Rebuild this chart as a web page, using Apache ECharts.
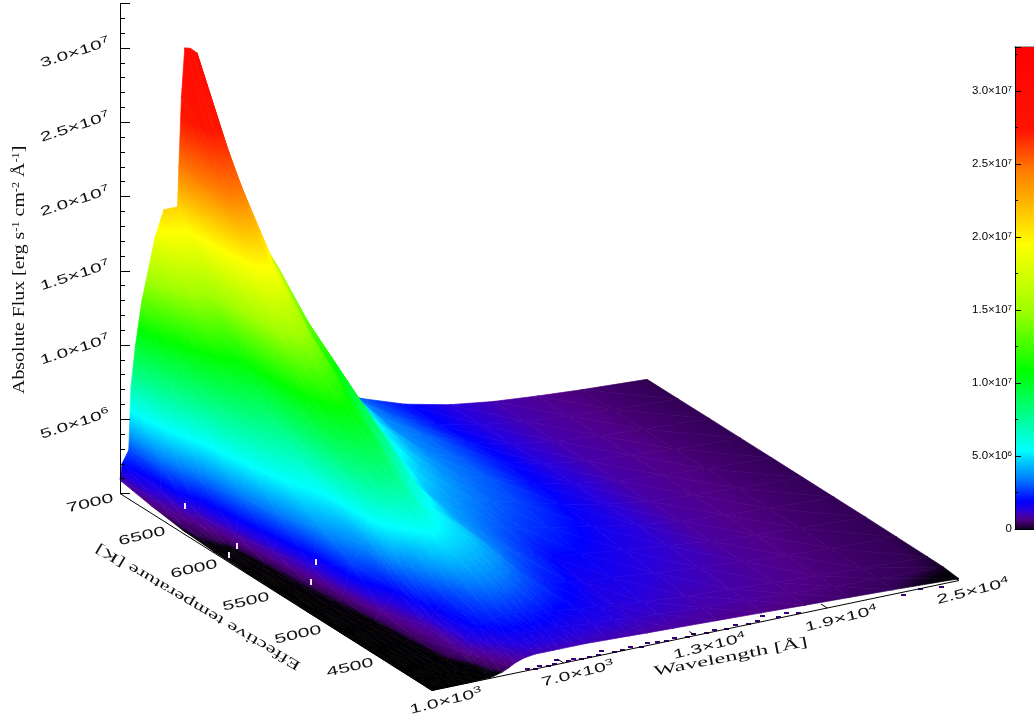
<!DOCTYPE html>
<html><head><meta charset="utf-8">
<style>html,body{margin:0;padding:0;background:#fff}#c{width:1034px;height:717px}</style>
<script src="https://cdn.jsdelivr.net/npm/echarts@6/dist/echarts.min.js"></script>
</head><body><div id="c"></div>
<script>
// Flux values are in units of 10^6 erg s-1 cm-2 A-1
const FLUX_UNIT = 1e6;
const wavelengths = [1000,1100,1400,1500,1700,2000,2300,2600,3000,3620,3680,3800,3950,4200,4500,4800,5200,5700,6100,6500,6800,7500,8000,9000,10000,10800,12000,14000,16000,18000,20000,22000,25000];
const temperatures = [7000,6700,6400,6100,5800,5500,5200,4900,4600,4300,4150,4000];
const flux7000 = [.9,2.0,2.8,7.0,9.7,12.7,14.7,16.8,18.5,18.5,21.2,25.9,29.1,29.0,28.6,26.6,24.2,20.7,18.1,17.7,16.8,14.1,11.8,8.5,6.1,4.0,3.0,2.0,1.35,.95,.7,.5,.28];
const flux6700 = [.5,1.0,1.4,3.0,5.2,8.0,9.9,11.8,13.6,14.4,16.5,20.3,23.0,23.3,23.3,21.9,20.3,17.6,15.6,15.4,14.7,12.0,9.8,7.0,5.4,3.8,3.1,2.0,1.33,.94,.7,.5,.29];
const flux6400 = [.2,.4,.5,.8,1.0,2.8,5.7,8.0,9.7,10.9,12.6,15.6,17.9,18.3,18.6,17.8,16.7,14.8,13.2,13.0,12.2,10.0,8.2,6.0,4.7,3.7,3.2,2.1,1.35,.93,.7,.5,.3];
const flux6100 = [.08,.12,.15,.2,.2,.9,3.4,5.5,7.1,8.3,9.7,12.1,14.0,14.6,15.1,14.6,13.9,12.5,11.3,11.0,10.4,8.4,7.0,5.2,4.2,3.6,3.1,2.1,1.35,.92,.7,.5,.3];
const flux5800 = [.03,.05,.06,.08,.15,.25,1.0,3.2,5.2,6.4,7.5,9.5,11.0,11.7,12.2,12.0,11.6,10.6,9.5,9.0,8.6,6.8,5.4,4.5,3.8,3.4,3.0,2.0,1.35,.9,.68,.5,.3];
const flux5500 = [.02,.02,.03,.04,.07,.2,.35,1.2,3.8,5.0,5.8,7.4,8.7,9.3,9.9,9.9,9.7,8.6,7.6,7.2,6.4,5.0,4.4,3.8,3.4,3.1,2.7,1.9,1.3,.87,.66,.5,.3];
const flux5200 = [.01,.02,.02,.03,.05,.1,.2,.4,2.65,3.7,4.35,5.6,6.65,7.2,7.8,7.9,7.6,6.6,5.8,5.5,5.2,4.4,3.9,3.3,2.9,2.6,2.3,1.7,1.25,.84,.64,.48,.3];
const flux4900 = [.01,.01,.01,.02,.03,.05,.08,.2,.7,2.0,2.4,2.8,3.2,3.6,4.3,5.0,5.4,5.2,5.0,4.8,4.7,4.1,3.5,2.9,2.3,1.9,1.85,1.45,1.15,.8,.62,.46,.3];
const flux4600 = [.01,.01,.01,.01,.02,.03,.05,.1,.35,.9,1.1,1.4,1.7,2.0,2.5,2.9,3.5,3.8,3.8,3.7,3.6,3.2,2.9,2.2,1.95,1.6,1.56,1.25,1.0,.78,.58,.44,.28];
const flux4300 = [.01,.01,.01,.01,.01,.02,.03,.05,.2,.6,.7,.9,1.2,1.7,1.95,2.1,2.25,2.35,2.35,2.3,2.25,2.1,1.9,1.7,1.55,1.3,1.26,1.0,.88,.7,.54,.42,.26];
const flux4150 = [.01,.01,.01,.01,.01,.01,.02,.03,.05,.2,.25,.35,.5,.7,1.0,1.2,1.6,1.7,1.7,1.7,1.7,1.6,1.5,1.4,1.3,1.15,1.1,.92,.81,.62,.5,.38,.24];
const flux4000 = [.01,.01,.01,.01,.01,.01,.01,.01,.02,.05,.06,.1,.15,.25,.45,.7,.9,1.0,1.0,1.0,1.0,1.0,1.0,.95,.9,.85,.8,.7,.6,.5,.4,.3,.12];
const fluxRows = [flux7000,flux6700,flux6400,flux6100,flux5800,flux5500,flux5200,flux4900,flux4600,flux4300,flux4150,flux4000];

const fluxTicks = [5e6,1e7,1.5e7,2e7,2.5e7,3e7];
const fluxTickLabels = ['5.0×10{s|6}','1.0×10{s|7}','1.5×10{s|7}','2.0×10{s|7}','2.5×10{s|7}','3.0×10{s|7}'];
const tempTicks = [7000,6500,6000,5500,5000,4500];
const tempTickLabels = ['7000','6500','6000','5500','5000','4500'];
const waveTicks = [1000,7000,13000,19000,25000];
const waveTickLabels = ['1.0×10{s|3}','7.0×10{s|3}','1.3×10{s|4}','1.9×10{s|4}','2.5×10{s|4}'];
const colorbarTickLabels = {0:'0',5000000:'5.0×10{s|6}',10000000:'1.0×10{s|7}',15000000:'1.5×10{s|7}',20000000:'2.0×10{s|7}',25000000:'2.5×10{s|7}',30000000:'3.0×10{s|7}'};
// Isolated pixels of the grid: holes inside the surface and stray cells beyond its edge
const holeCells = [[2650,6733],[1500,6067],[2260,6151],[2896,5573],[4151,5790]];
const strayCells = [[5400,4030],[5700,4020],[6000,4045],[6300,4025],[6600,4030],[6900,4070],[7200,4025],[7500,4040],[7800,4020],[8200,4030],[8600,4030],[8900,4065],[9300,4020],[9700,4030],[10100,4035],[10500,4020],[10900,4040],[11300,4030],[11700,4025],[12100,4035],[12600,4020],[13000,4040],[13500,4025],[13900,4030],[14400,4020],[14900,4045],[15400,4025],[15900,4040],[16300,4075],[16800,4030],[17300,4060],[17700,4025],[22300,3990],[23200,4010],[24000,3985]];

const colorbarStops = [[0,[20,0,35]],[.3,[50,0,85]],[.6,[75,0,130]],[.9,[70,0,170]],[1.3,[40,0,220]],[1.9,[0,0,255]],[3.5,[0,130,255]],[5.4,[0,255,255]],[8,[0,255,130]],[10.8,[0,255,0]],[15,[160,255,0]],[19.5,[255,255,0]],[24.4,[255,128,0]],[27.3,[255,20,0]],[33,[255,0,0]]];
const colormap = [[0,[0,0,0]],[.2,[5,0,10]],[.3,[50,0,85]],[.6,[80,0,135]],[.9,[70,0,170]],[1.3,[40,0,220]],[1.9,[0,0,255]],[3.5,[0,130,255]],[5.4,[0,255,255]],[8,[0,255,130]],[10.8,[0,255,0]],[14,[160,255,0]],[17.3,[255,255,0]],[21,[255,128,0]],[24.5,[255,20,0]],[33,[255,0,0]]];

function colorAt(f){
  if(f<=colormap[0][0]) return colormap[0][1];
  for(let i=1;i<colormap.length;i++){
    if(f<=colormap[i][0]){
      const a=colormap[i-1],b=colormap[i],k=(f-a[0])/(b[0]-a[0]);
      return a[1].map((v,n)=>v+(b[1][n]-v)*k);
    }
  }
  return colormap[colormap.length-1][1];
}
const css=c=>'rgb('+c.map(Math.round).join(',')+')';

// Oblique view: a point (wavelength, temperature, flux) goes onto the plane of the
// wavelength / flux axes, sheared along the temperature direction.
const FLUX_MAX=3.3e7, PLOT_H=490, PLOT_W=527, WAVE_SPAN=24000;
const unitsPerPx=FLUX_MAX/PLOT_H;
function project(api,lam,T,z){
  const t=(7000-T)/3000;
  const u=lam+t*312/PLOT_W*WAVE_SPAN;
  const v=z+((lam-1000)/WAVE_SPAN*110-t*197)*unitsPerPx;
  return api.coord([u,v]);
}

function triangleStyle(pts,fs){
  const [p0,p1,p2]=pts,[f0,f1,f2]=fs;
  const ax=p1[0]-p0[0],ay=p1[1]-p0[1],bx=p2[0]-p0[0],by=p2[1]-p0[1];
  const det=ax*by-ay*bx;
  const fmin=Math.min(f0,f1,f2),fmax=Math.max(f0,f1,f2);
  if(Math.abs(det)<1e-3||fmax-fmin<1e-6){
    const c=css(colorAt((f0+f1+f2)/3));
    return {fill:c,stroke:c,lineWidth:.7};
  }
  const gx=((f1-f0)*by-(f2-f0)*ay)/det, gy=((f2-f0)*ax-(f1-f0)*bx)/det;
  const g2=gx*gx+gy*gy, d=fmax-fmin;
  const start=pts[fs.indexOf(fmin)];
  const stops=[{offset:0,color:css(colorAt(fmin))}];
  colormap.forEach(s=>{ if(s[0]>fmin&&s[0]<fmax) stops.push({offset:(s[0]-fmin)/d,color:css(s[1])}); });
  stops.push({offset:1,color:css(colorAt(fmax))});
  const grad=new echarts.graphic.LinearGradient(start[0],start[1],start[0]+gx*d/g2,start[1]+gy*d/g2,stops,true);
  return {fill:grad,stroke:grad,lineWidth:.7};
}

// Paint far to near: hot rows first, long wavelengths first
const triangles=[];
for(let r=0;r<temperatures.length-1;r++){
  for(let c=wavelengths.length-2;c>=0;c--){
    triangles.push([r,c,0]);
    triangles.push([r,c,1]);
  }
}
function renderTriangle(params,api){
  const r=api.value(0),c=api.value(1),k=api.value(2);
  const cells=k===0?[[r,c],[r,c+1],[r+1,c+1]]:[[r,c],[r+1,c+1],[r+1,c]];
  const fs=cells.map(q=>fluxRows[q[0]][q[1]]);
  if(fs.some(f=>f===null)) return null;
  const pts=cells.map((q,i)=>project(api,wavelengths[q[1]],temperatures[q[0]],fs[i]*FLUX_UNIT));
  return {type:'polygon',shape:{points:pts},style:triangleStyle(pts,fs)};
}

function renderFrame(params,api){
  const a=project(api,1000,7000,0),b=project(api,1000,4000,0),c=project(api,25000,4000,0);
  const kids=[{type:'polyline',shape:{points:[a,b,c]},style:{stroke:'#000',lineWidth:1,fill:null}}];
  waveTicks.forEach(w=>{
    const p=project(api,w,4000,0),q=project(api,w,4060,0);
    kids.push({type:'line',shape:{x1:p[0],y1:p[1],x2:q[0],y2:q[1]},style:{stroke:'#000',lineWidth:1}});
  });
  return {type:'group',children:kids};
}
function renderCells(list,color,size){
  return function(params,api){
    const q=list[api.value(0)];
    const p=project(api,q[0],q[1],0);
    return {type:'rect',shape:{x:Math.round(p[0]),y:Math.round(p[1]),width:size[0],height:size[1]},style:{fill:color}};
  };
}

const labelItems=[];
fluxTicks.forEach((v,i)=>labelItems.push({text:fluxTickLabels[i],lam:1000,T:7000,z:v,dx:-45,dy:5,rot:18,sx:1.6,size:13,font:'Liberation Sans'}));
tempTicks.forEach((v,i)=>labelItems.push({text:tempTickLabels[i],lam:1000,T:v,z:0,dx:-30,dy:10,rot:13,sx:1.65,size:13,font:'Liberation Sans'}));
waveTicks.forEach((v,i)=>labelItems.push({text:waveTickLabels[i],lam:v,T:4000,z:0,dx:14,dy:11,rot:14,sx:1.65,size:13,font:'Liberation Sans'}));
labelItems.push({text:'Wavelength [Å]',lam:14600,T:4000,z:0,dx:0,dy:29,rot:11,sx:1.75,size:14,font:'Liberation Serif'});
labelItems.push({text:'Effective temperature [K]',lam:1000,T:5200,z:0,dx:-109,dy:-5,rot:149.5,sx:1.63,size:14,font:'Liberation Serif'});
labelItems.push({text:'Absolute Flux [erg s{t|-1} cm{t|-2} Å{t|-1}]',lam:1000,T:7000,z:1.5e7,dx:-100,dy:-1,rot:90,sx:1.24,size:16,font:'Liberation Serif'});
const richAll={t:{fontSize:10,padding:[0,0,8,0],fontFamily:'Liberation Serif',fill:'#111'},s:{fontSize:9,padding:[0,0,7,0],fontFamily:'Liberation Sans',fill:'#111'}};
function renderLabel(params,api){
  const L=labelItems[api.value(0)];
  const p=project(api,L.lam,L.T,L.z);
  return {type:'text',x:p[0]+L.dx,y:p[1]+L.dy,rotation:L.rot*Math.PI/180,scaleX:L.sx,scaleY:1,
    style:{text:L.text,rich:richAll,fontSize:L.size,fontFamily:L.font,fill:'#111',align:'center',verticalAlign:'middle'}};
}

const barStops=colorbarStops.map(s=>({offset:s[0]/33,color:css(s[1])}));
const common={type:'custom',coordinateSystem:'cartesian2d',xAxisIndex:0,yAxisIndex:0,silent:true,clip:false,animation:false};

const chart=echarts.init(document.getElementById('c'),null,{renderer:'canvas'});
chart.setOption({
  animation:false,
  backgroundColor:'#fff',
  grid:[
    {left:120,top:3.5,width:PLOT_W,height:PLOT_H},
    {left:1015,top:47,width:19,height:482}
  ],
  xAxis:[
    {type:'value',gridIndex:0,min:1000,max:25000,show:false},
    {type:'category',gridIndex:1,data:['scale'],position:'bottom',axisLine:{lineStyle:{color:'#000',width:1}},axisTick:{show:false},axisLabel:{show:false}},
    {type:'category',gridIndex:1,data:['scale'],position:'top',axisLine:{lineStyle:{color:'#888',width:1.5}},axisTick:{show:false},axisLabel:{show:false}}
  ],
  yAxis:[
    {type:'value',gridIndex:0,min:0,max:FLUX_MAX,interval:5e6,z:5,splitLine:{show:false},axisLabel:{show:false},
     axisLine:{show:true,onZero:false,lineStyle:{color:'#000',width:1}},
     axisTick:{show:true,inside:true,length:10,lineStyle:{color:'#000'}},
     minorTick:{show:true,splitNumber:5,length:5,lineStyle:{color:'#000'}},minorSplitLine:{show:false}},
    {type:'value',gridIndex:1,min:0,max:FLUX_MAX,interval:5e6,z:5,position:'left',splitLine:{show:false},
     axisLine:{show:true,onZero:false,lineStyle:{color:'#000',width:1}},
     axisTick:{show:true,inside:true,length:6,lineStyle:{color:'#000'}},
     minorTick:{show:true,splitNumber:2,length:3,lineStyle:{color:'#000'}},
     axisLabel:{show:true,margin:3,fontSize:11.5,fontFamily:'Liberation Sans',color:'#000',
       formatter:v=>colorbarTickLabels[v]||'',rich:{s:{fontSize:8,padding:[0,0,5,0],fontFamily:'Liberation Sans',color:'#000'}}}}
  ],
  series:[
    Object.assign({},common,{name:'Surface',z:2,data:triangles,renderItem:renderTriangle}),
    Object.assign({},common,{name:'Holes',z:3,data:holeCells.map((q,i)=>[i]),renderItem:renderCells(holeCells,'#f4e6f4',[2,6])}),
    Object.assign({},common,{name:'Stray',z:3,data:strayCells.map((q,i)=>[i]),renderItem:renderCells(strayCells,'#3a0078',[5,2])}),
    Object.assign({},common,{name:'Frame',z:4,data:[[0]],renderItem:renderFrame}),
    Object.assign({},common,{name:'Labels',z:6,data:labelItems.map((q,i)=>[i]),renderItem:renderLabel}),
    {type:'bar',name:'Colour scale',xAxisIndex:1,yAxisIndex:1,data:[FLUX_MAX],barWidth:'100%',silent:true,animation:false,
     itemStyle:{color:new echarts.graphic.LinearGradient(0,1,0,0,barStops)}}
  ]
});
</script></body></html>
